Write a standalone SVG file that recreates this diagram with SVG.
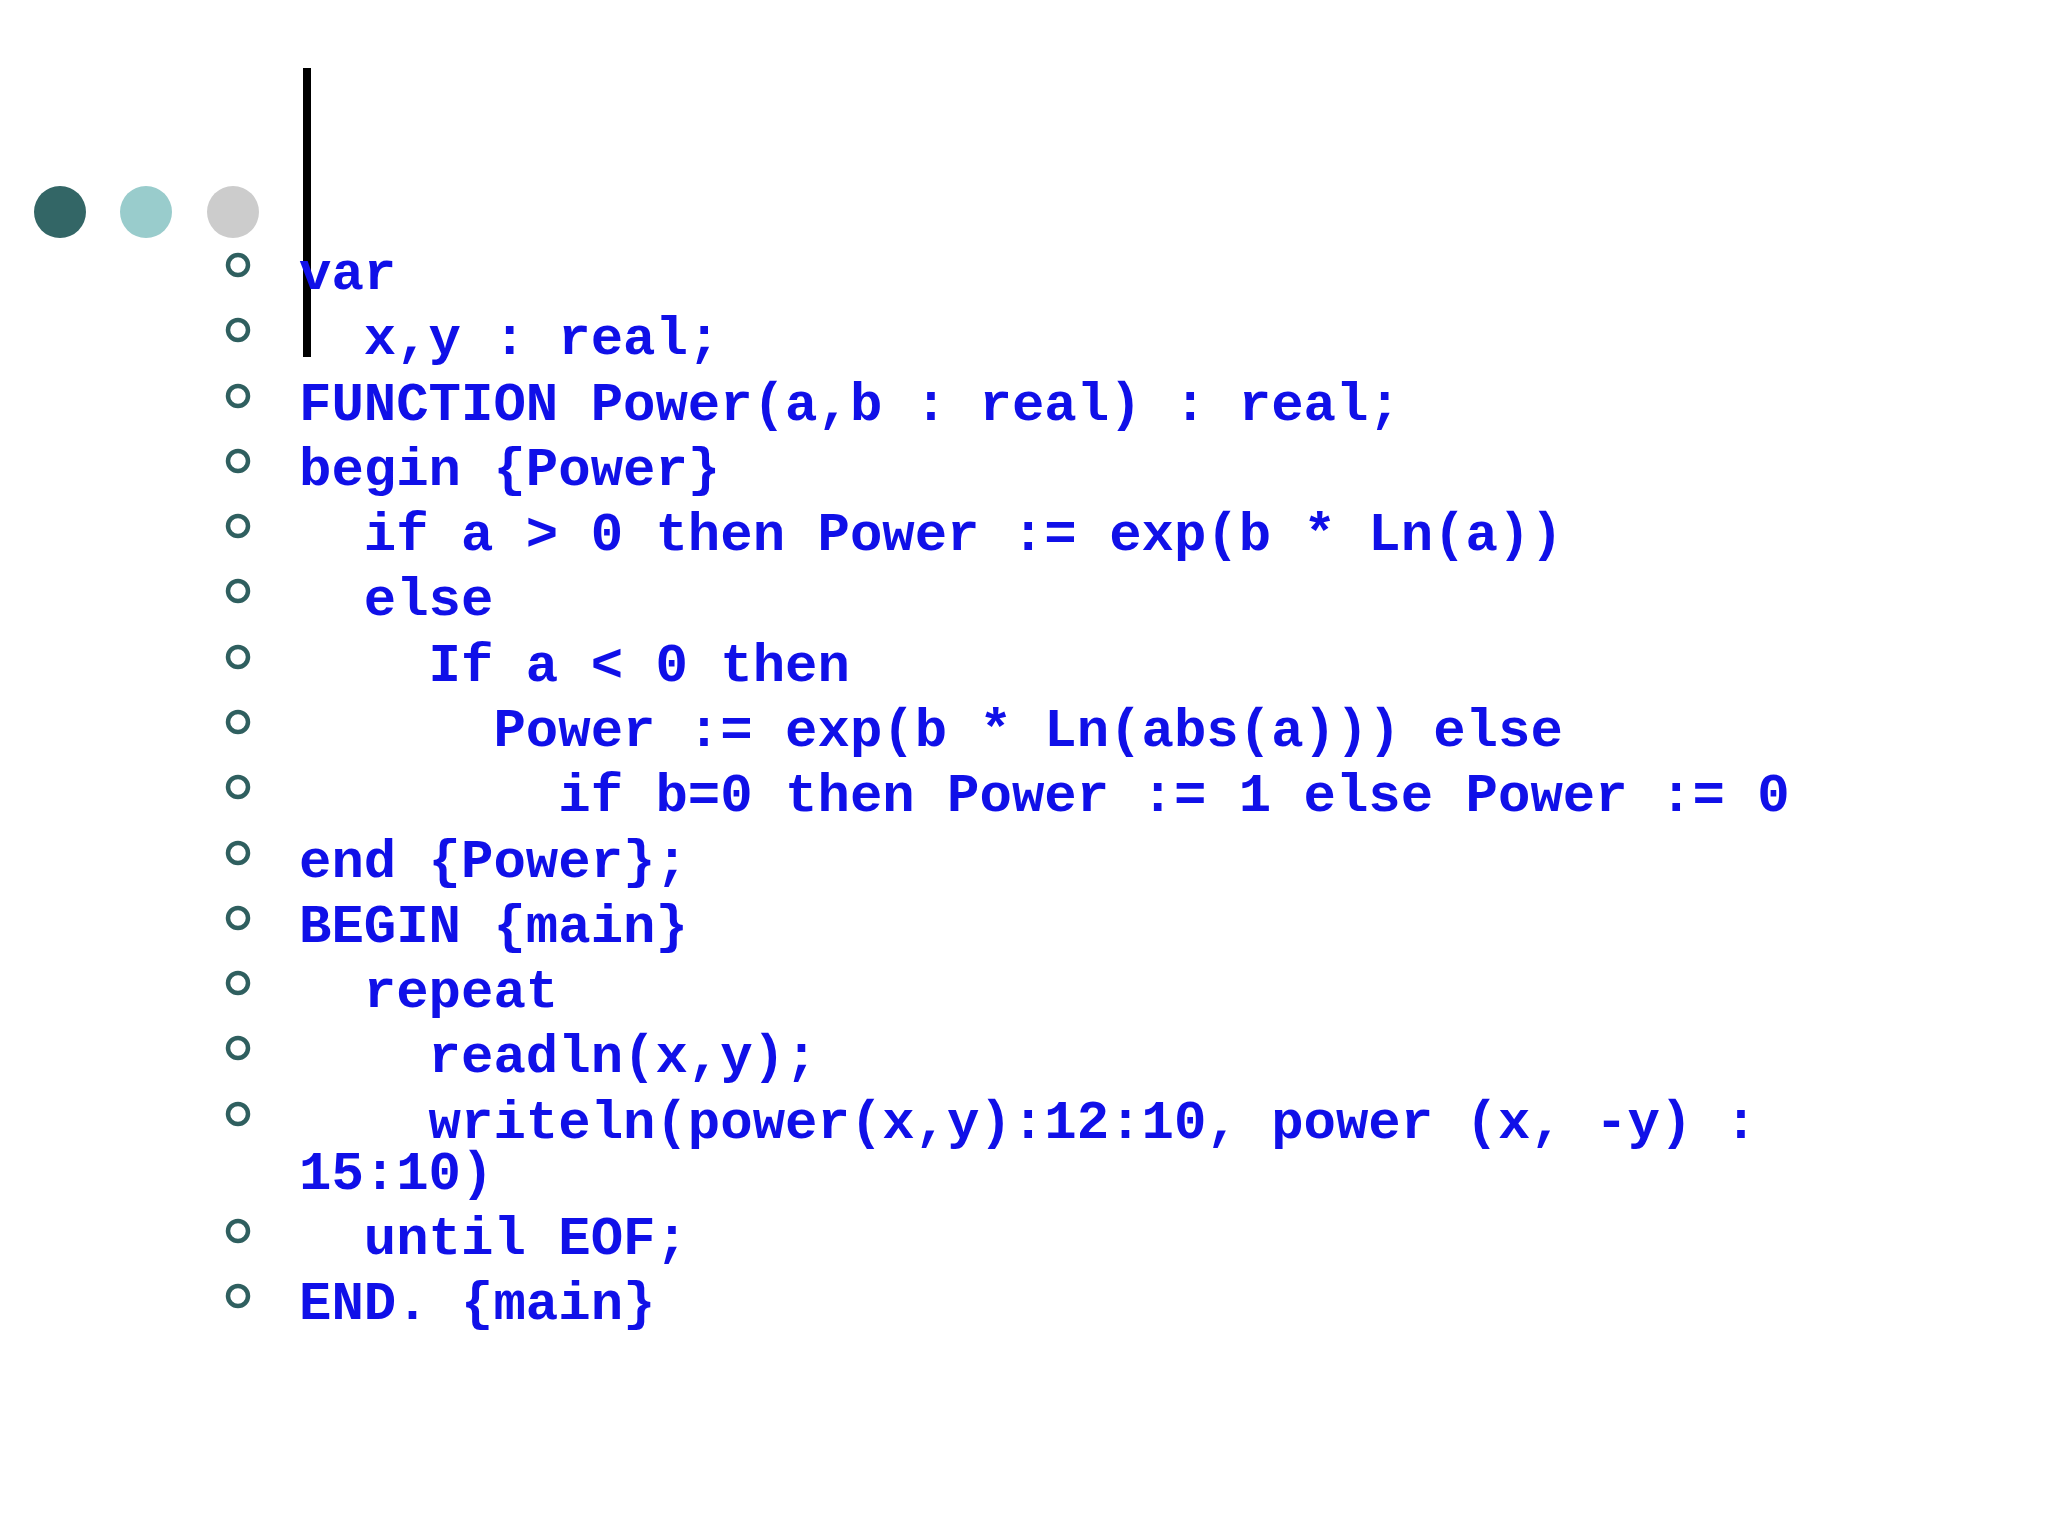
<svg xmlns="http://www.w3.org/2000/svg" width="2048" height="1536" viewBox="0 0 2048 1536">
<style>
.t{font-family:"Liberation Mono","Courier New",monospace;font-weight:bold;font-size:54px;fill:#1010e8;white-space:pre}
.b{fill:none;stroke:#2f5f5f;stroke-width:4.5}
</style>
<rect width="2048" height="1536" fill="#fff"/>
<g id="decor">
<circle cx="60" cy="212" r="26" fill="#336666"/>
<circle cx="146" cy="212" r="26" fill="#99cccc"/>
<circle cx="233" cy="212" r="26" fill="#cccccc"/>
<rect x="303" y="68" width="8" height="289" fill="#000"/>
</g>
<g id="bullets">
<circle class="b" cx="238" cy="265" r="10"/>
<circle class="b" cx="238" cy="330" r="10"/>
<circle class="b" cx="238" cy="396" r="10"/>
<circle class="b" cx="238" cy="461" r="10"/>
<circle class="b" cx="238" cy="526" r="10"/>
<circle class="b" cx="238" cy="591" r="10"/>
<circle class="b" cx="238" cy="657" r="10"/>
<circle class="b" cx="238" cy="722" r="10"/>
<circle class="b" cx="238" cy="787" r="10"/>
<circle class="b" cx="238" cy="853" r="10"/>
<circle class="b" cx="238" cy="918" r="10"/>
<circle class="b" cx="238" cy="983" r="10"/>
<circle class="b" cx="238" cy="1048" r="10"/>
<circle class="b" cx="238" cy="1114" r="10"/>
<circle class="b" cx="238" cy="1231" r="10"/>
<circle class="b" cx="238" cy="1296" r="10"/>
</g>
<g id="code">
<text class="t" x="299" y="289">var</text>
<text class="t" x="299" y="354">  x,y : real;</text>
<text class="t" x="299" y="420">FUNCTION Power(a,b : real) : real;</text>
<text class="t" x="299" y="485">begin {Power}</text>
<text class="t" x="299" y="550">  if a &gt; 0 then Power := exp(b * Ln(a))</text>
<text class="t" x="299" y="615">  else</text>
<text class="t" x="299" y="681">    If a &lt; 0 then</text>
<text class="t" x="299" y="746">      Power := exp(b * Ln(abs(a))) else</text>
<text class="t" x="299" y="811">        if b=0 then Power := 1 else Power := 0</text>
<text class="t" x="299" y="877">end {Power};</text>
<text class="t" x="299" y="942">BEGIN {main}</text>
<text class="t" x="299" y="1007">  repeat</text>
<text class="t" x="299" y="1072">    readln(x,y);</text>
<text class="t" x="299" y="1138">    writeln(power(x,y):12:10, power (x, -y) :</text>
<text class="t" x="299" y="1189">15:10)</text>
<text class="t" x="299" y="1254">  until EOF;</text>
<text class="t" x="299" y="1319">END. {main}</text>
</g>
</svg>
